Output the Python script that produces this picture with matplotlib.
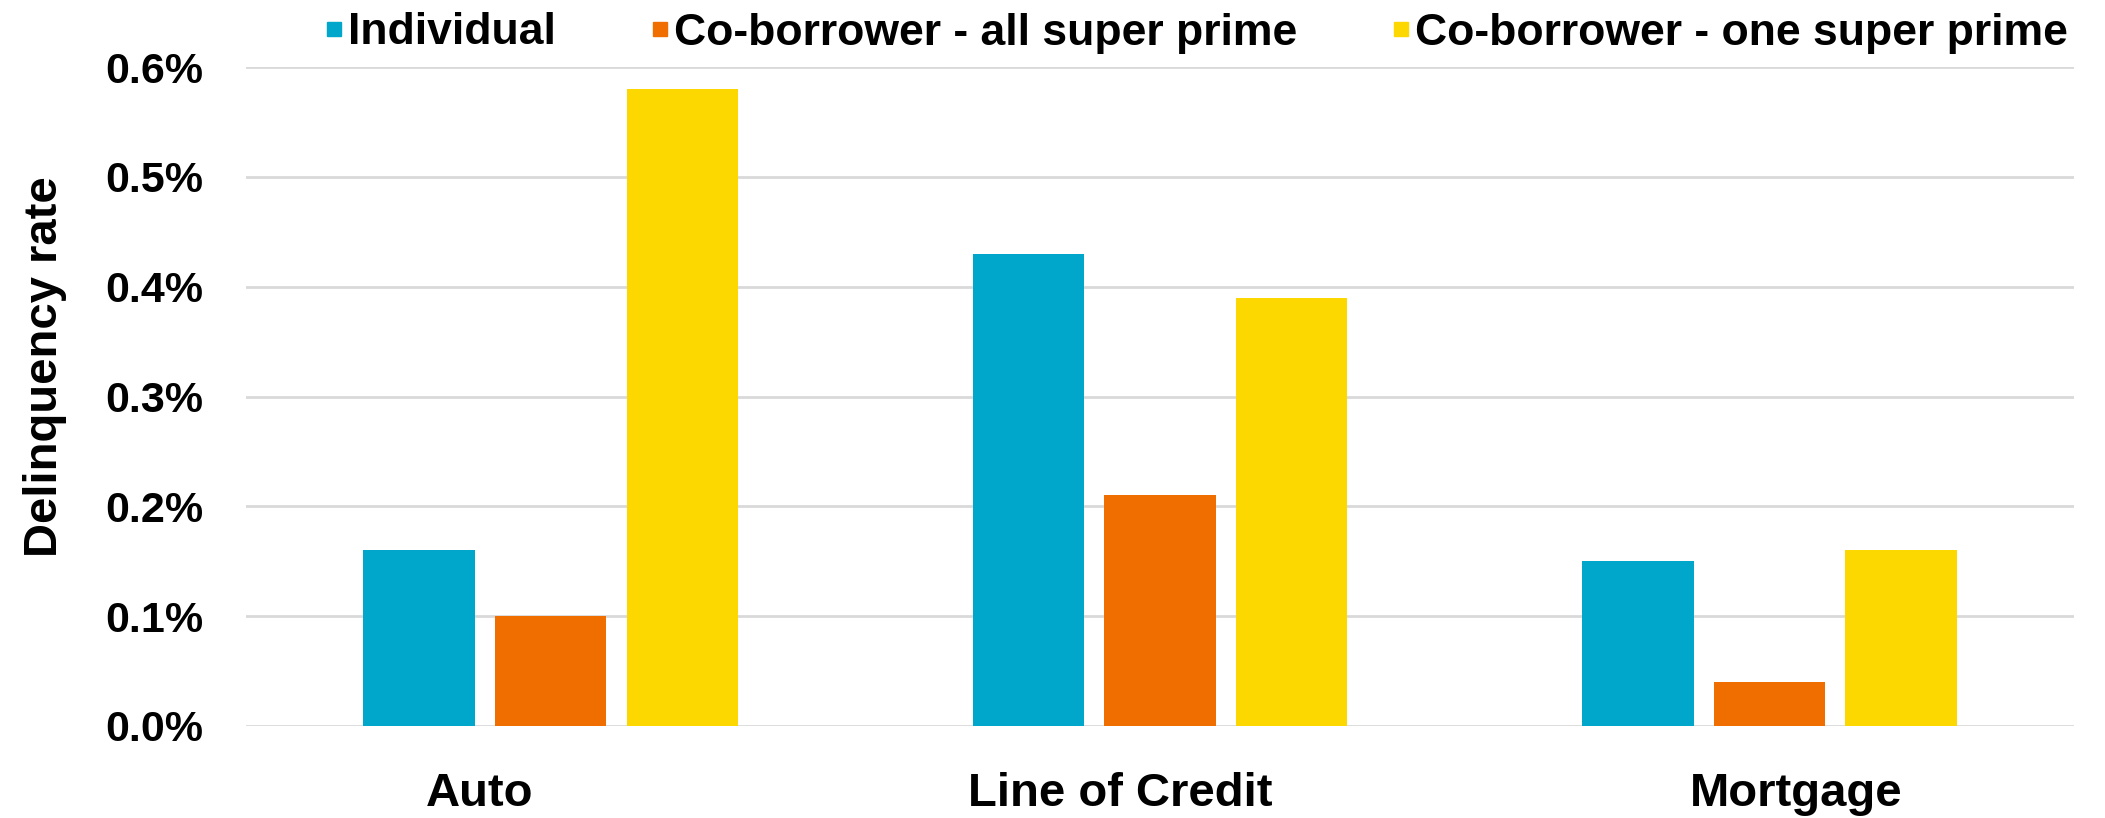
import matplotlib.pyplot as plt
from matplotlib.lines import Line2D
from matplotlib.ticker import FuncFormatter
import numpy as np

plt.rcParams["font.family"] = ["Liberation Sans", "DejaVu Sans"]
plt.rcParams["font.weight"] = "bold"

categories = ["Auto", "Line of Credit", "Mortgage"]
series_names = ["Individual", "Co-borrower - all super prime",
                "Co-borrower - one super prime"]
individual = [0.16, 0.43, 0.15]
all_super_prime = [0.10, 0.21, 0.04]
one_super_prime = [0.58, 0.39, 0.16]
yticks = [0.0, 0.1, 0.2, 0.3, 0.4, 0.5, 0.6]

colors = ["#01A7CB", "#F06E00", "#FCD800"]

fig = plt.figure(figsize=(21.05, 8.18), dpi=100)
ax = fig.add_axes([0.1169, 0.1125, 0.8684, 0.8055])

ind = np.arange(len(categories))
bar_width = 0.183
step = 0.216

for k, vals in enumerate([individual, all_super_prime, one_super_prime]):
    ax.bar(ind + (k - 1) * step, vals, bar_width, color=colors[k], zorder=3)

# the category labels in the original sit a little off the group centres
label_shift = np.array([-0.117, -0.066, 0.044])

ax.set_xlim(-0.5, 2.5)
ax.set_ylim(0, 0.6)
ax.set_yticks(yticks)
ax.yaxis.set_major_formatter(FuncFormatter(lambda v, p: f"{v:.1f}%"))
ax.set_xticks(ind + label_shift)
ax.set_xticklabels(categories)
ax.grid(axis="y", color="#D9D9D9", linewidth=2, zorder=0)
for s in ax.spines.values():
    s.set_visible(False)
ax.tick_params(axis="y", length=0, labelsize=31, pad=31)
ax.tick_params(axis="x", length=0, labelsize=34, pad=33)
ax.set_ylabel("Delinquency rate", fontsize=34, fontweight="bold")
ax.yaxis.set_label_coords(-0.098, 0.545)

handles = [Line2D([], [], marker="s", linestyle="", markersize=10,
                  color=c) for c in colors]
fig.legend(handles, series_names, loc="center right",
           bbox_to_anchor=(2068 / 2105, 1 - 33 / 818), ncol=3, frameon=False,
           fontsize=32, handlelength=0.3, handletextpad=0.16,
           columnspacing=2.2, borderaxespad=0, borderpad=0)

fig.savefig("out.png", dpi=100)
